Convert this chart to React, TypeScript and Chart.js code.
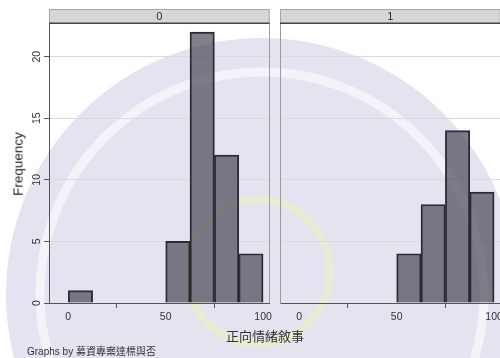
import React, { useEffect, useRef } from 'react';
import { Chart, registerables } from 'chart.js';

Chart.register(...registerables);

// Histogram bins of 正向情緒敘事 (width 12.5), split by 募資專案達標與否
const binStarts = [0, 12.5, 25, 37.5, 50, 62.5, 75, 87.5];
const binWidth = 12.5;
const panelLabels = ['0', '1'];
const countsPanel0 = [1, 0, 0, 0, 5, 22, 12, 4];
const countsPanel1 = [0, 0, 0, 0, 4, 8, 14, 9];
const xTicks = [0, 50, 100];
const yTicks = [0, 5, 10, 15, 20];

const X_MIN = -9.9;
const X_MAX = 103.4;
const Y_MAX = 22.65;

const FONT = '"Liberation Sans", Arial, Helvetica, sans-serif';
const CJK = '"Noto Sans CJK TC", "Noto Sans CJK SC", sans-serif';

function stripPlugin(label: string) {
  return {
    id: 'panelStrip',
    beforeDatasetsDraw(chart: any) {
      const { ctx, chartArea: a } = chart;
      ctx.save();
      ctx.strokeStyle = '#9c9c9c';
      ctx.lineWidth = 1;
      ctx.beginPath();
      ctx.moveTo(Math.round(a.right) - 0.5, a.top);
      ctx.lineTo(Math.round(a.right) - 0.5, a.bottom);
      ctx.stroke();
      ctx.restore();
    },
    afterDraw(chart: any) {
      const { ctx, chartArea: a } = chart;
      const top = 9;
      ctx.save();
      ctx.fillStyle = '#d6d6d6';
      ctx.fillRect(a.left, top, a.right - a.left, a.top - top);
      ctx.strokeStyle = '#a6a6a6';
      ctx.lineWidth = 1;
      ctx.strokeRect(a.left + 0.5, top + 0.5, a.right - a.left - 1, a.top - top - 1);
      ctx.strokeStyle = '#454545';
      ctx.lineWidth = 1.6;
      ctx.beginPath();
      ctx.moveTo(a.left, a.top - 0.8);
      ctx.lineTo(a.right, a.top - 0.8);
      ctx.stroke();
      ctx.fillStyle = '#2a2a2a';
      ctx.font = `11px ${FONT}`;
      ctx.textAlign = 'center';
      ctx.textBaseline = 'middle';
      ctx.fillText(label, (a.left + a.right) / 2, (top + a.top) / 2 + 0.5);
      ctx.restore();
    },
  };
}

function makeConfig(counts: number[], label: string, showY: boolean, padLeft: number, padRight: number): any {
  const points = binStarts
    .map((s, i) => ({ x: s + binWidth / 2, y: counts[i] }))
    .filter((p) => p.y > 0);
  return {
    type: 'bar',
    data: {
      datasets: [
        {
          data: points,
          backgroundColor: 'rgba(56,56,72,0.64)',
          borderColor: '#2a2a30',
          borderWidth: 1.3,
          barPercentage: 1,
          categoryPercentage: 1,
        },
      ],
    },
    options: {
      animation: false,
      responsive: false,
      devicePixelRatio: 1,
      layout: {
        autoPadding: false,
        padding: { top: 24, bottom: 35, left: padLeft, right: padRight },
      },
      plugins: {
        legend: { display: false },
        tooltip: { enabled: false },
        title: { display: false },
      },
      scales: {
        x: {
          type: 'linear',
          min: X_MIN,
          max: X_MAX,
          offset: false,
          afterBuildTicks: (s: any) => {
            s.ticks = xTicks.map((v) => ({ value: v }));
          },
          afterFit: (s: any) => {
            s.height = 20;
          },
          grid: { drawOnChartArea: false, tickLength: 5, tickColor: '#555', tickWidth: 1 },
          border: { color: '#555', width: 1 },
          ticks: {
            font: { size: 10.5, family: FONT },
            color: '#333',
            padding: 3,
            maxRotation: 0,
            autoSkip: false,
            callback: (v: any) => String(v),
          },
        },
        y: {
          min: 0,
          max: Y_MAX,
          afterBuildTicks: (s: any) => {
            s.ticks = yTicks.map((v) => ({ value: v }));
          },
          afterFit: (s: any) => {
            s.width = showY ? 49 : 0;
          },
          grid: {
            color: (c: any) => (c.tick && c.tick.value === 0 ? 'rgba(0,0,0,0)' : '#dadada'),
            drawTicks: showY,
            tickLength: showY ? 5 : 0,
            tickColor: '#555',
            lineWidth: 1,
          },
          border: { color: showY ? '#555' : '#9a9a9a', width: 1 },
          ticks: {
            display: showY,
            minRotation: 90,
            maxRotation: 90,
            crossAlign: 'center',
            padding: 1,
            font: { size: 10.5, family: FONT },
            color: '#333',
            autoSkip: false,
            callback: (v: any) => String(v),
          },
        },
      },
    },
    plugins: [stripPlugin(label)],
  };
}

function Panel(props: { counts: number[]; label: string; showY: boolean; left: number; width: number; padLeft: number; padRight: number }) {
  const ref = useRef<HTMLCanvasElement>(null);
  useEffect(() => {
    if (!ref.current) return;
    const chart = new Chart(ref.current, makeConfig(props.counts, props.label, props.showY, props.padLeft, props.padRight));
    return () => chart.destroy();
  }, []);
  return (
    <canvas
      ref={ref}
      width={props.width}
      height={358}
      style={{ position: 'absolute', left: props.left, top: 0, width: props.width, height: 358 }}
    />
  );
}

function Seal() {
  // faint university seal printed behind the graph
  return (
    <svg width={500} height={358} style={{ position: 'absolute', left: 0, top: 0 }}>
      <circle cx={262} cy={294} r={256} fill="#e4e4f0" />
      <circle cx={262} cy={294} r={222} fill="none" stroke="#f3f3f8" strokeWidth={9} />
      <circle cx={258} cy={272} r={72} fill="none" stroke="#e9ebd2" strokeWidth={8} />
    </svg>
  );
}

export default function App() {
  return (
    <div
      style={{
        position: 'fixed',
        left: 0,
        top: 0,
        width: 500,
        height: 358,
        overflow: 'hidden',
        background: '#ffffff',
        fontFamily: FONT,
      }}
    >
      <Seal />
      <Panel counts={countsPanel0} label={panelLabels[0]} showY={true} left={0} width={275} padLeft={0} padRight={5} />
      <Panel counts={countsPanel1} label={panelLabels[1]} showY={false} left={275} width={231} padLeft={5} padRight={5} />
      <div
        style={{
          position: 'absolute',
          left: 18,
          top: 164,
          transform: 'translate(-50%, -50%) rotate(-90deg)',
          fontSize: 13.5,
          color: '#2a2222',
          whiteSpace: 'nowrap',
          fontFamily: FONT,
        }}
      >
        Frequency
      </div>
      <div
        style={{
          position: 'absolute',
          left: 265,
          top: 335,
          transform: 'translate(-50%, -50%)',
          fontSize: 13,
          color: '#333',
          whiteSpace: 'nowrap',
          fontFamily: CJK,
        }}
      >
        正向情緒敘事
      </div>
      <div
        style={{
          position: 'absolute',
          left: 27,
          top: 350,
          transform: 'translateY(-50%)',
          fontSize: 10,
          color: '#333',
          whiteSpace: 'nowrap',
          fontFamily: FONT,
        }}
      >
        Graphs by <span style={{ fontFamily: CJK }}>募資專案達標與否</span>
      </div>
    </div>
  );
}
